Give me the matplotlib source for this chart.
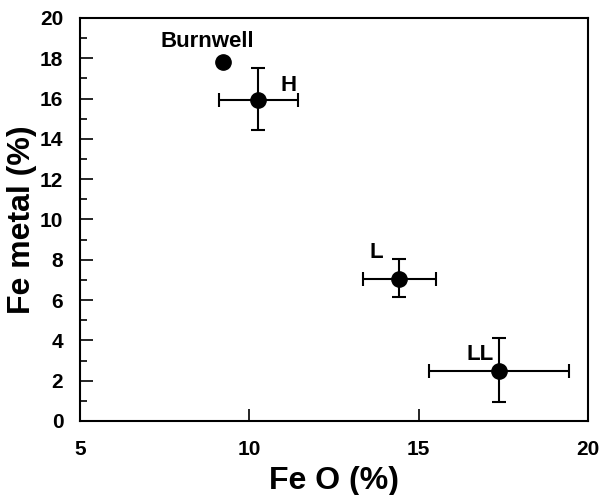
import matplotlib
matplotlib.use("Agg")
import matplotlib.pyplot as plt
from matplotlib.ticker import MultipleLocator, FixedLocator

plt.rcParams['font.family'] = ['Liberation Sans', 'DejaVu Sans']
plt.rcParams['font.weight'] = 'bold'

# chondrite groups (with error bars)
names = ["H", "L", "LL"]
feo = [10.26, 14.42, 17.37]
fe_metal = [15.95, 7.05, 2.5]
feo_lo = [9.1, 13.36, 15.3]
feo_hi = [11.43, 15.51, 19.44]
metal_lo = [14.45, 6.15, 0.95]
metal_hi = [17.52, 8.05, 4.12]

# Burnwell
burnwell_feo = 9.22
burnwell_metal = 17.8

label_pos = {"Burnwell": (8.75, 18.85), "H": (11.15, 16.65), "L": (13.75, 8.35), "LL": (16.8, 3.3)}

fig = plt.figure(figsize=(5.99, 4.95), dpi=100)
ax = fig.add_axes([80/599, 1 - 421/495, 508/599, 403/495])

xerr = [[f - lo for f, lo in zip(feo, feo_lo)], [hi - f for f, hi in zip(feo, feo_hi)]]
yerr = [[m - lo for m, lo in zip(fe_metal, metal_lo)], [hi - m for m, hi in zip(fe_metal, metal_hi)]]
ax.errorbar(feo, fe_metal, xerr=xerr, yerr=yerr, fmt='o', color='black',
            markersize=11, capsize=5, elinewidth=1.5, capthick=1.5)
ax.plot([burnwell_feo], [burnwell_metal], 'o', color='black', markersize=11)

ax.text(*label_pos["Burnwell"], "Burnwell", ha='center', va='center', fontsize=16, fontweight='bold')
for n in names:
    ax.text(*label_pos[n], n, ha='center', va='center', fontsize=16, fontweight='bold')

ax.set_xlim(5, 20)
ax.set_ylim(0, 20)
ax.set_xticks([5, 10, 15, 20])
ax.set_xticklabels(["5", "10", "15", "20"])
ax.yaxis.set_major_locator(MultipleLocator(2))
ax.yaxis.set_minor_locator(MultipleLocator(1))
ax.tick_params(axis='both', direction='in', length=9, width=1.2, labelsize=15)
ax.tick_params(axis='y', which='minor', direction='in', length=5, width=1.2)
ax.tick_params(axis='x', pad=14)
ax.tick_params(axis='y', pad=12)
ax.xaxis.get_major_ticks()[0].tick1line.set_visible(False)
ax.xaxis.get_major_ticks()[3].tick1line.set_visible(False)
for s in ax.spines.values():
    s.set_linewidth(1.5)

ax.set_xlabel("Fe O (%)", fontsize=23, fontweight='bold', labelpad=5)
ax.set_ylabel("Fe metal (%)", fontsize=23, fontweight='bold', labelpad=2)

fig.savefig("out.png", dpi=100)
